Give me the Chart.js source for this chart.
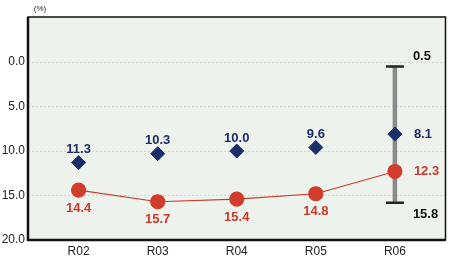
<!DOCTYPE html>
<html>
<head>
<meta charset="utf-8">
<script src="https://cdn.jsdelivr.net/npm/chart.js@4"></script>
<style>
  html, body { margin: 0; background: #fff; overflow: hidden; }
  canvas { display: block; }
</style>
</head>
<body>
<canvas id="grafico" width="457" height="264"></canvas>
<script>
// datos
const categorias = ["R02", "R03", "R04", "R05", "R06"];
const azul = [11.3, 10.3, 10.0, 9.6, 8.1];
const rojo = [14.4, 15.7, 15.4, 14.8, 12.3];
const rango = [0.5, 15.8]; // R06
const ticksY = [0, 5, 10, 15, 20];

const puntos = arr => arr.map((v, i) => ({ x: i, y: v }));
const iR06 = categorias.length - 1;
const fuente = "'Liberation Sans', Arial, sans-serif";

// fondo, borde del área y etiquetas del eje x
const fondo = {
  id: "fondo",
  beforeDraw(chart) {
    const { ctx, chartArea: a } = chart;
    ctx.save();
    ctx.fillStyle = "#eef2ec";
    ctx.fillRect(a.left, a.top, a.right - a.left, a.bottom - a.top);
    ctx.restore();
  },
  afterDatasetsDraw(chart) {
    const { ctx, chartArea: a } = chart;
    ctx.save();
    ctx.strokeStyle = "#111";
    ctx.lineWidth = 1.5;
    ctx.strokeRect(a.left, a.top, a.right - a.left, a.bottom - a.top);
    ctx.lineWidth = 2.5;
    ctx.beginPath();
    ctx.moveTo(a.left, a.top);
    ctx.lineTo(a.left, a.bottom);
    ctx.lineTo(a.right, a.bottom);
    ctx.stroke();
    ctx.font = "8px " + fuente;
    ctx.fillStyle = "#222";
    ctx.textAlign = "center";
    ctx.fillText("(%)", 40, 11);
    ctx.font = "12px " + fuente;
    ctx.textBaseline = "middle";
    categorias.forEach((c, i) => {
      ctx.fillText(c, chart.scales.x.getPixelForValue(i), a.bottom + 12);
    });
    ctx.restore();
  }
};

// etiquetas de valores
const etiquetas = {
  id: "etiquetas",
  afterDatasetsDraw(chart) {
    const { ctx } = chart;
    ctx.save();
    ctx.font = "bold 13px " + fuente;
    ctx.textBaseline = "middle";
    const dibujar = (idx, color, dy, vals) => {
      chart.getDatasetMeta(idx).data.forEach((p, i) => {
        ctx.fillStyle = color;
        if (i === iR06) {
          ctx.textAlign = "left";
          ctx.fillText(vals[i].toFixed(1), p.x + 19, p.y);
        } else {
          ctx.textAlign = "center";
          ctx.fillText(vals[i].toFixed(1), p.x, p.y + dy);
        }
      });
    };
    dibujar(1, "#1b2d6b", -13, azul);
    dibujar(0, "#c8392b", 18, rojo);
    const r = chart.getDatasetMeta(2).data;
    ctx.fillStyle = "#111";
    ctx.textAlign = "left";
    ctx.fillText(rango[0].toFixed(1), r[0].x + 18, r[0].y - 10);
    ctx.fillText(rango[1].toFixed(1), r[1].x + 18, r[1].y + 12);
    ctx.restore();
  }
};

new Chart(document.getElementById("grafico"), {
  type: "scatter",
  data: {
    datasets: [
      {
        label: "rojo",
        data: puntos(rojo),
        showLine: true,
        borderColor: "#c8392b",
        borderWidth: 1.2,
        pointBackgroundColor: "#d13c2c",
        pointBorderColor: "#d13c2c",
        pointRadius: 7,
        order: 1
      },
      {
        label: "azul",
        data: puntos(azul),
        pointStyle: "rectRot",
        pointBackgroundColor: "#1b2d6b",
        pointBorderColor: "#1b2d6b",
        pointRadius: 7,
        order: 0
      },
      {
        label: "rango",
        data: rango.map(v => ({ x: iR06, y: v })),
        showLine: true,
        borderColor: "#8a8a8a",
        borderWidth: 4.5,
        pointStyle: "line",
        pointRadius: 9,
        pointBorderWidth: 2.5,
        pointBorderColor: "#222",
        order: 3
      }
    ]
  },
  plugins: [fondo, etiquetas],
  options: {
    responsive: false,
    animation: false,
    layout: { padding: { top: 17, right: 2, left: 0, bottom: 24 } },
    plugins: {
      legend: { display: false },
      tooltip: { enabled: false }
    },
    scales: {
      x: {
        type: "linear",
        display: false,
        min: -0.64,
        max: 4.64
      },
      y: {
        reverse: true,
        min: -5.06,
        max: 20,
        afterBuildTicks: s => { s.ticks = ticksY.map(v => ({ value: v })); },
        afterFit: s => { s.width = 28; },
        ticks: {
          callback: v => v.toFixed(1),
          color: "#222",
          font: { size: 12, family: fuente },
          padding: 3
        },
        grid: { color: "#c9cdc6", lineWidth: 0.8, drawTicks: false },
        border: { display: false, dash: [2, 2] }
      }
    }
  }
});
</script>
</body>
</html>
